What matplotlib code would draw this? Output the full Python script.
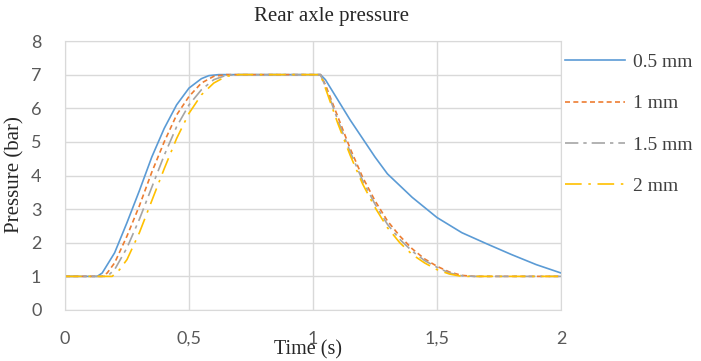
import numpy as np
import matplotlib
matplotlib.use("Agg")
import matplotlib.pyplot as plt

# data
t_05 = [0, 0.13, 0.15, 0.2, 0.25, 0.3, 0.35, 0.4, 0.45, 0.5, 0.55, 0.58, 0.62, 0.65, 1.03, 1.05,
        1.1, 1.15, 1.2, 1.25, 1.3, 1.35, 1.4, 1.45, 1.5, 1.6, 1.7, 1.8, 1.9, 2.0]
p_05 = [1, 1, 1.1, 1.7, 2.6, 3.55, 4.55, 5.4, 6.1, 6.6, 6.88, 6.97, 7.0, 7.0, 7.0, 6.85,
        6.25, 5.65, 5.1, 4.55, 4.05, 3.7, 3.35, 3.05, 2.75, 2.3, 1.97, 1.65, 1.35, 1.1]

t_1 = [0, 0.15, 0.17, 0.2, 0.25, 0.3, 0.35, 0.4, 0.45, 0.5, 0.55, 0.6, 0.65, 0.7, 1.03, 1.05, 1.1,
       1.15, 1.2, 1.25, 1.3, 1.35, 1.4, 1.45, 1.5, 1.55, 1.6, 1.65, 2.0]
p_1 = [1, 1, 1.1, 1.4, 2.2, 3.1, 4.1, 5.0, 5.8, 6.35, 6.75, 6.95, 7.0, 7.0, 7.0, 6.7, 5.75,
       4.8, 3.95, 3.25, 2.65, 2.2, 1.82, 1.52, 1.3, 1.13, 1.03, 1.0, 1.0]

t_15 = [0, 0.17, 0.2, 0.25, 0.3, 0.35, 0.4, 0.45, 0.5, 0.55, 0.6, 0.65, 0.7, 1.03, 1.05, 1.1,
        1.15, 1.2, 1.25, 1.3, 1.35, 1.4, 1.45, 1.5, 1.55, 1.6, 1.65, 2.0]
p_15 = [1, 1, 1.2, 1.85, 2.7, 3.65, 4.6, 5.45, 6.1, 6.55, 6.85, 6.98, 7.0, 7.0, 6.65, 5.65,
        4.7, 3.85, 3.15, 2.55, 2.1, 1.75, 1.47, 1.27, 1.1, 1.02, 1.0, 1.0]

t_2 = [0, 0.19, 0.22, 0.25, 0.3, 0.35, 0.4, 0.45, 0.5, 0.55, 0.6, 0.65, 0.7, 1.03, 1.05, 1.1,
       1.15, 1.2, 1.25, 1.3, 1.35, 1.4, 1.45, 1.5, 1.55, 1.6, 2.0]
p_2 = [1, 1, 1.2, 1.5, 2.3, 3.25, 4.2, 5.1, 5.85, 6.4, 6.75, 6.95, 7.0, 7.0, 6.6, 5.55,
       4.6, 3.75, 3.05, 2.45, 2.0, 1.65, 1.4, 1.2, 1.07, 1.0, 1.0]

labels = ["0.5 mm", "1 mm", "1.5 mm", "2 mm"]
xticks = [0, 0.5, 1, 1.5, 2]
xticklabels = ["0", "0,5", "1", "1,5", "2"]

serif = "Liberation Serif"
tickfont = "Lato"

fig = plt.figure(figsize=(7.01, 3.61), dpi=100)
ax = fig.add_axes([65/701, 51/361, 496/701, 269/361])

ax.plot(t_05, p_05, color="#5B9BD5", lw=1.2, label=labels[0])
ax.plot(t_1, p_1, color="#ED7D31", lw=1.2, linestyle=(0, (3, 2)), label=labels[1])
ax.plot(t_15, p_15, color="#A5A5A5", lw=1.2, linestyle=(0, (8, 3, 2, 3)), label=labels[2])
ax.plot(t_2, p_2, color="#FFC000", lw=1.2, linestyle=(0, (10, 4, 1.5, 4)), label=labels[3])

ax.set_xlim(0, 2)
ax.set_ylim(0, 8)
ax.set_xticks(xticks)
ax.set_xticklabels(xticklabels)
ax.set_yticks(range(0, 9))
ax.grid(True, color="#D9D9D9", lw=1)
ax.set_axisbelow(True)
for s in ax.spines.values():
    s.set_color("#D9D9D9")
ax.tick_params(length=0, colors="#595959", labelsize=13)
ax.tick_params(axis="x", pad=15)
ax.tick_params(axis="y", pad=17)
for lb in ax.get_xticklabels() + ax.get_yticklabels():
    lb.set_family(tickfont)

fig.text(332/701, 1 - 16/361, "Rear axle pressure", family=serif, fontsize=15,
         color="#262626", ha="center", va="center")
fig.text(15/701, 1 - 175/361, "Pressure (bar)", family=serif, fontsize=15,
         color="#262626", ha="center", va="center", rotation=90)
fig.text(308/701, 1 - 350/361, "Time (s)", family=serif, fontsize=14.5,
         color="#262626", ha="center", va="center")

leg = fig.legend(loc="upper left", bbox_to_anchor=(547/701, 1 - 36/361), frameon=False,
                 prop={"family": serif, "size": 14}, handlelength=3.1, handletextpad=0.4,
                 labelspacing=1.22)
for txt in leg.get_texts():
    txt.set_color("#404040")

fig.savefig("out.png", dpi=100)
